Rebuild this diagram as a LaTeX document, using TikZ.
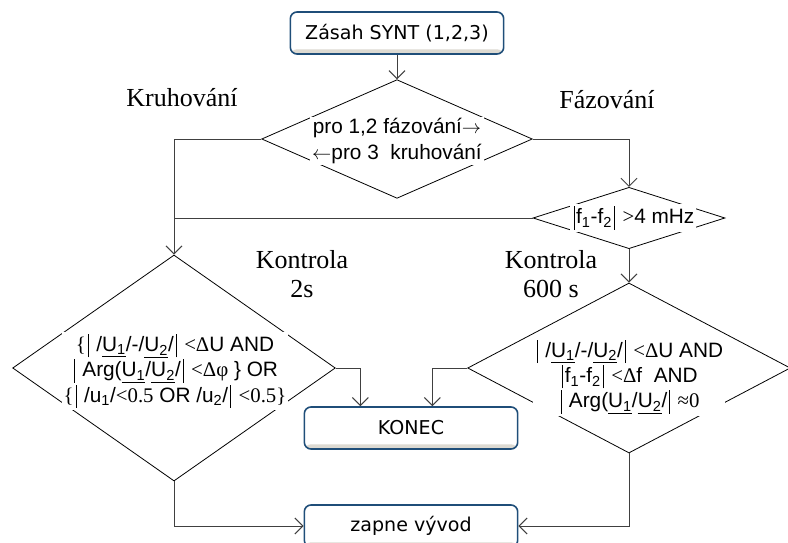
\documentclass[tikz,border=0pt]{standalone}
\usepackage{fontspec}
\setmainfont{Liberation Serif}
\setsansfont{Liberation Sans}
\newfontfamily\boxfont{DejaVu Sans}
\usetikzlibrary{arrows.meta,shapes.geometric}
\definecolor{boxblue}{RGB}{31,78,121}
\definecolor{boxshade}{RGB}{221,218,210}
\definecolor{linegray}{RGB}{64,64,64}
\newcommand{\uU}[1]{\underline{U\textsubscript{#1}}}
\newcommand{\sy}[1]{{\rmfamily #1}}
\newcommand{\svis}{\hspace{1.5pt}\rule[-0.28em]{0.45pt}{1.12em}\hspace{1.5pt}}

\begin{document}
\begin{tikzpicture}[x=0.75pt,y=-0.75pt,
  krok/.style={draw=boxblue,line width=1.2pt,rounded corners=5pt,fill=white,
    minimum width=160pt,minimum height=31.5pt,inner sep=0pt,
    font=\boxfont\fontsize{14.3}{17}\selectfont,
    path picture={\fill[boxshade] ([yshift=3.5pt]path picture bounding box.south west)
      rectangle (path picture bounding box.south east);}},
  kosoctverec/.style={draw,diamond,inner sep=0pt,line width=0.6pt},
  podminka/.style={fill=white,inner sep=1.5pt,align=center,
    font=\sffamily\fontsize{15.6}{19}\selectfont},
  popis/.style={align=center,font=\fontsize{19.5}{21.75}\selectfont},
  spoj/.style={draw=linegray,line width=0.75pt},
  sipka/.style={spoj,-{Straight Barb[length=6pt,width=12pt]}}]
\useasboundingbox (0,0) rectangle (788,542);

\node[krok] (zasah) at (397,33) {Zásah SYNT (1,2,3)};
\node[kosoctverec,minimum width=203pt,minimum height=89pt] (volba) at (397,139) {};
\node[kosoctverec,minimum width=144pt,minimum height=46pt] (rozdil) at (629,218) {};
\node[kosoctverec,minimum width=242pt,minimum height=169.5pt] (kruh) at (174,368) {};
\node[kosoctverec,minimum width=242pt,minimum height=127.5pt] (faze) at (629,368) {};
\node[krok] (konec) at (411,428) {KONEC};
\node[krok] (vyvod) at (411,526) {zapne vývod};

\node[popis] (kruhovani) at (182,98) {Kruhování};
\node[popis] (fazovani) at (607,100) {Fázování};
\node[popis] (kontrola2) at (302,274) {Kontrola\\2s};
\node[popis] (kontrola600) at (551,274) {Kontrola\\600 s};

\draw[sipka] (zasah.south) -- (volba.north);
\draw[sipka] (volba.west) -| (kruh.north);
\draw[sipka] (volba.east) -| (rozdil.north);
\draw[spoj] (rozdil.west) -- (rozdil.west -| kruh.north);
\draw[sipka] (rozdil.south) -- (faze.north);
\draw[sipka] (kruh.east) -| ([xshift=-38pt]konec.north);
\draw[sipka] (faze.west) -| ([xshift=16pt]konec.north);
\draw[sipka] (kruh.south) |- (vyvod.west);
\draw[sipka] (faze.south) |- (vyvod.east);

\node[podminka] (volbaT) at (397,141) {pro 1,2 fázování$\rightarrow$\\$\leftarrow$pro 3\ \ kruhování};
\node[podminka] (rozdilT) at (633,218) {\svis f\textsubscript{1}-f\textsubscript{2}\svis\ \sy{>}4 mHz};
\node[podminka] (kruhT) at (175,371) {\sy{\{}\svis\ /\uU{1}/-/\uU{2}/\svis\ \sy{<Δ}U AND\\
  \svis\ Arg(\uU{1}/\uU{2}/\svis\ \sy{<Δφ} \} OR\\
  \sy{\{}\svis\ /u\textsubscript{1}/\sy{<0.5} OR /u\textsubscript{2}/\svis\ \sy{<0.5\}}};
\node[podminka] (fazeT) at (629,377) {\svis\ /\uU{1}/-/\uU{2}/\svis\ \sy{<Δ}U AND\\
  \svis f\textsubscript{1}-f\textsubscript{2}\svis\ \sy{<Δ}f\ \ AND\\
  \svis\ Arg(\uU{1}/\uU{2}/\svis\ \sy{≈0}};
\end{tikzpicture}
\end{document}
